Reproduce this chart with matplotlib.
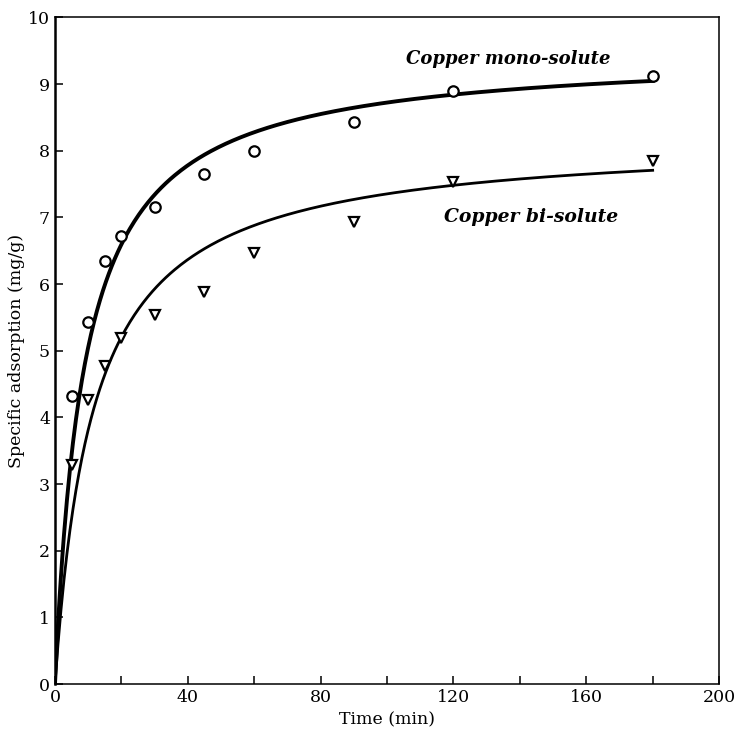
import numpy as np
import matplotlib
matplotlib.use("Agg")
import matplotlib.pyplot as plt
from matplotlib.ticker import MultipleLocator

# Measured data
time_min = [5, 10, 15, 20, 30, 45, 60, 90, 120, 180]
mono_q = [4.32, 5.43, 6.34, 6.72, 7.15, 7.65, 8.00, 8.43, 8.89, 9.12]
bi_q = [3.28, 4.26, 4.77, 5.19, 5.53, 5.88, 6.46, 6.93, 7.53, 7.84]

# Pseudo-second-order fit parameters (qe mg/g, k g/(mg min))
mono_qe, mono_k = 9.49, 0.0120
bi_qe, bi_k = 8.20, 0.0106

x_ticks = [0, 40, 80, 120, 160, 200]
y_ticks = list(range(0, 11))

plt.rcParams['font.family'] = ['DejaVu Serif']

fig = plt.figure(figsize=(7.42, 7.29), dpi=100)
ax = fig.add_axes([0.0741, 0.0617, 0.895, 0.9143])

t_fit = np.linspace(0, 180, 400)
def pso(t, qe, k):
    return qe * qe * k * t / (1 + qe * k * t)

ax.plot(t_fit, pso(t_fit, mono_qe, mono_k), color='black', lw=2.8)
ax.plot(t_fit, pso(t_fit, bi_qe, bi_k), color='black', lw=2.0)

ax.plot(time_min, mono_q, linestyle='none', marker='o', ms=7.5, mfc='white',
        mec='black', mew=1.6)
ax.plot(time_min, bi_q, linestyle='none', marker='v', ms=7, mfc='white',
        mec='black', mew=1.6)

ax.set_xlim(0, 200)
ax.set_ylim(0, 10)
ax.set_xticks(x_ticks)
ax.xaxis.set_minor_locator(MultipleLocator(20))
ax.set_yticks(y_ticks)
ax.tick_params(axis='both', which='both', direction='in', length=6, width=1.1,
               labelsize=12.5, top=False, right=False)
for s in ax.spines.values():
    s.set_linewidth(1.1)
ax.spines['left'].set_linewidth(1.8)

ax.set_xlabel('Time (min)', fontsize=12.5, labelpad=4)
ax.set_ylabel('Specific adsorption (mg/g)', fontsize=12.5, labelpad=2)

ax.text(136.5, 9.37, 'Copper mono-solute', fontsize=13, fontstyle='italic',
        fontweight='bold', ha='center', va='center')
ax.text(143.5, 7.0, 'Copper bi-solute', fontsize=13.5, fontstyle='italic',
        fontweight='bold', ha='center', va='center')

fig.savefig('out.png', dpi=100)
